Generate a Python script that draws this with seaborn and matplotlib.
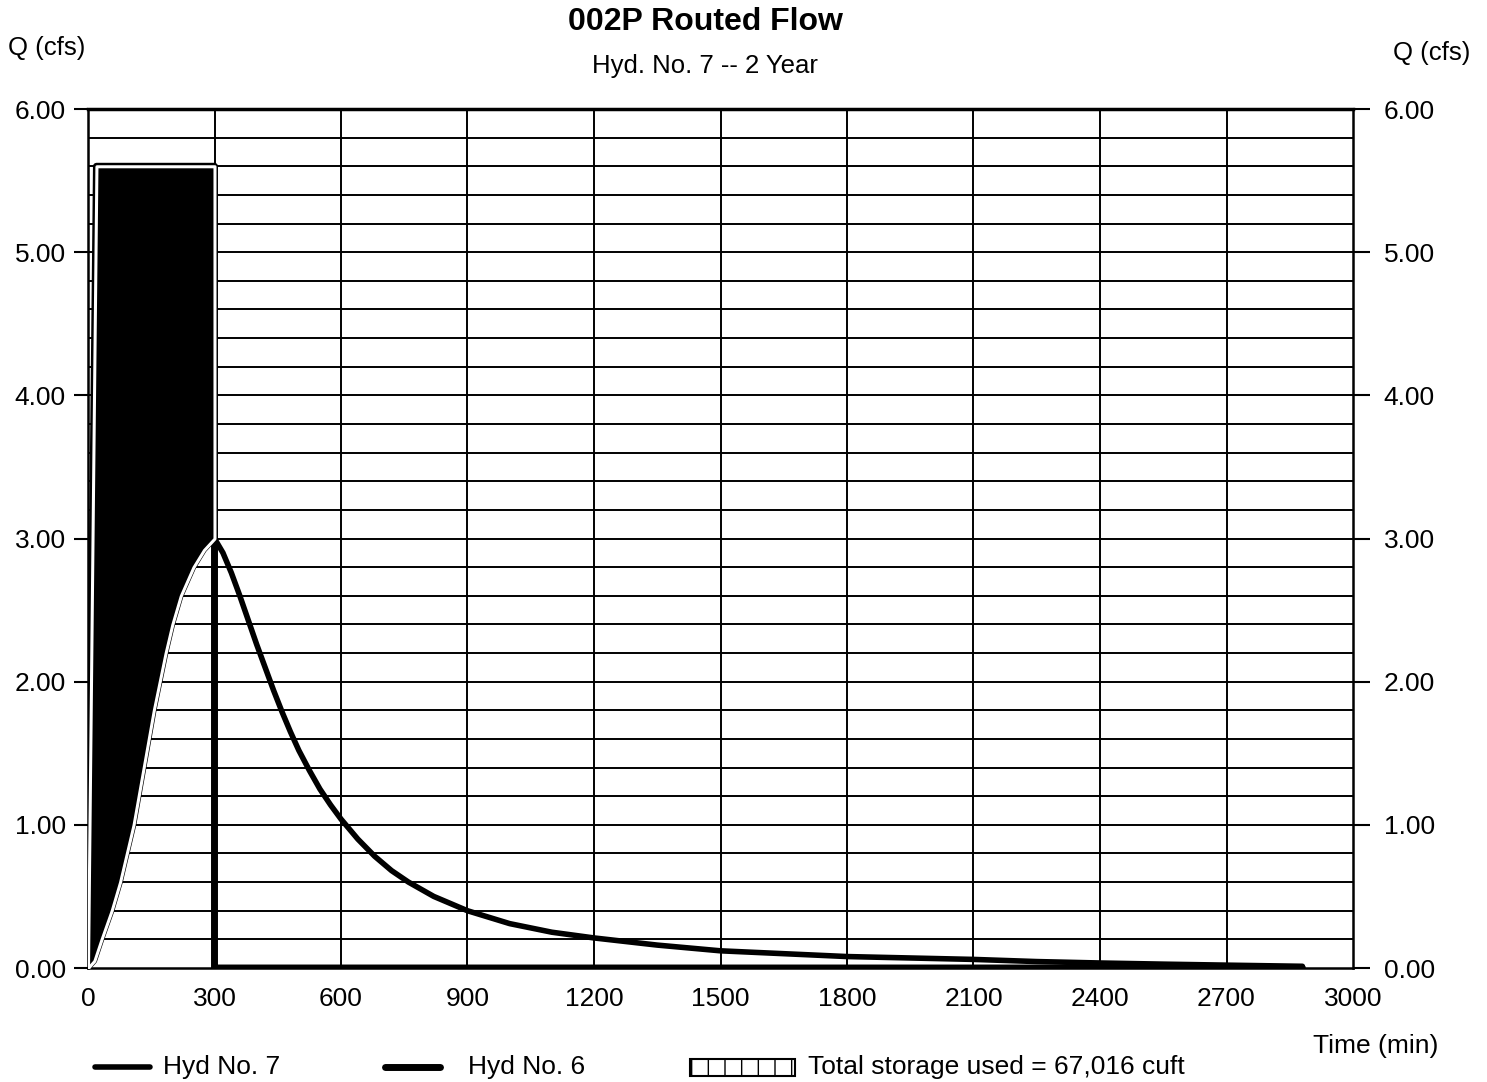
import matplotlib
matplotlib.use("Agg")
import matplotlib.pyplot as plt
import seaborn as sns
import pandas as pd
import numpy as np
from matplotlib.lines import Line2D
from matplotlib.patches import Rectangle

# ---------------- data ----------------
# Hyd No. 7 (routed outflow)
out_time = [0, 15, 32, 56, 76, 92, 108, 120, 132, 144, 156, 170, 184, 200, 220, 250, 275, 300,
            320, 340, 360, 380, 400, 420, 440, 460, 480, 500, 525, 550, 575, 600, 640, 680,
            720, 760, 820, 900, 1000, 1100, 1200, 1350, 1500, 1650, 1800, 1950, 2100, 2250,
            2400, 2550, 2700, 2880]
out_q = [0.0, 0.05, 0.20, 0.40, 0.60, 0.80, 1.00, 1.20, 1.40, 1.60, 1.80, 2.00, 2.20, 2.40, 2.60, 2.80, 2.92, 3.00,
         2.90, 2.76, 2.60, 2.43, 2.26, 2.10, 1.94, 1.79, 1.65, 1.52, 1.38, 1.25, 1.14, 1.04, 0.90, 0.78,
         0.68, 0.60, 0.50, 0.40, 0.31, 0.25, 0.21, 0.16, 0.12, 0.10, 0.08, 0.07, 0.06, 0.045,
         0.035, 0.027, 0.02, 0.012]
# Hyd No. 6 (inflow)
in_time = [0, 20, 300, 300, 2880]
in_q = [0.0, 5.60, 5.60, 0.0, 0.0]

x_ticks = [0, 300, 600, 900, 1200, 1500, 1800, 2100, 2400, 2700, 3000]
y_ticks = [0, 1, 2, 3, 4, 5, 6]
storage_label = "Total storage used = 67,016 cuft"

# ---------------- style ----------------
sns.set_theme(style="white")
plt.rcParams['font.family'] = ['Liberation Sans', 'DejaVu Sans']
plt.rcParams['text.color'] = 'black'
plt.rcParams['xtick.color'] = 'black'
plt.rcParams['ytick.color'] = 'black'

fig = plt.figure(figsize=(14.87, 10.82), dpi=100)
ax = fig.add_axes([88 / 1487, 1 - 968 / 1082, (1353 - 88) / 1487, (968 - 109) / 1082])

df_out = pd.DataFrame({"t": out_time, "q": out_q})
df_in = pd.DataFrame({"t": in_time, "q": in_q})

# grid
for yv in np.arange(0.2, 6.0, 0.2):
    ax.axhline(yv, color="black", lw=1.4, zorder=1)
for xv in x_ticks[1:-1]:
    ax.axvline(xv, color="black", lw=1.4, zorder=1)

# lines
sns.lineplot(data=df_in, x="t", y="q", ax=ax, color="black", lw=5, estimator=None,
             sort=False, zorder=3, legend=False)
sns.lineplot(data=df_out, x="t", y="q", ax=ax, color="black", lw=4, estimator=None,
             sort=False, zorder=3, legend=False)

# storage area between inflow and outflow up to peak
peak_t = in_time[2]
t_fill = np.array(sorted(set([t for t in out_time if t <= peak_t] + in_time[:3])), dtype=float)
q_out_fill = np.interp(t_fill, out_time, out_q)
q_in_fill = np.interp(t_fill, in_time[:3], in_q[:3])
ax.fill_between(t_fill, q_out_fill, q_in_fill, facecolor="black", edgecolor="white",
                lw=2.2, zorder=4)

ax.set_xlim(0, 3000)
ax.set_ylim(0, 6)
ax.set_xticks(x_ticks)
ax.set_xticklabels([str(v) for v in x_ticks], fontsize=19)
ax.set_yticks(y_ticks)
ax.set_yticklabels([f"{v:.2f}" for v in y_ticks], fontsize=19)
ax.tick_params(axis="x", length=0, pad=14)
ax.tick_params(axis="y", length=10, width=1.5, color="black", pad=6, direction="out", left=True)
ax.set_xlabel("")
ax.set_ylabel("")
for s in ax.spines.values():
    s.set_color("black")
    s.set_linewidth(1.8)
ax.spines["top"].set_linewidth(2.5)

ax2 = ax.twinx()
ax2.set_ylim(0, 6)
ax2.set_yticks(y_ticks)
ax2.set_yticklabels([f"{v:.2f}" for v in y_ticks], fontsize=19)
ax2.tick_params(axis="y", length=12, width=1.5, color="black", pad=10, direction="out", right=True)
for s in ax2.spines.values():
    s.set_visible(False)
ax2.grid(False)
ax.grid(False)

# titles and labels
fig.text(705 / 1487, 1 - 22 / 1082, "002P Routed Flow", fontsize=23, fontweight="bold",
         ha="center", va="center")
fig.text(705 / 1487, 1 - 66 / 1082, "Hyd. No. 7 -- 2 Year", fontsize=18.5, ha="center", va="center")
fig.text(8 / 1487, 1 - 48 / 1082, "Q (cfs)", fontsize=18.5, ha="left", va="center")
fig.text(1470 / 1487, 1 - 53 / 1082, "Q (cfs)", fontsize=18.5, ha="right", va="center")
fig.text(1438 / 1487, 1 - 1046 / 1082, "Time (min)", fontsize=19, ha="right", va="center")

# legend (manual)
ly = 1 - 1067 / 1082
fig.add_artist(Line2D([95 / 1487, 150 / 1487], [ly, ly], color="black", lw=4))
fig.text(163 / 1487, ly, "Hyd No. 7", fontsize=19, va="center")
fig.add_artist(Line2D([385 / 1487, 440 / 1487], [ly, ly], color="black", lw=5))
fig.text(468 / 1487, ly, "Hyd No. 6", fontsize=19, va="center")
fig.add_artist(Rectangle((690 / 1487, 1 - 1076 / 1082), 105 / 1487, 17 / 1082,
                         transform=fig.transFigure, facecolor="white", edgecolor="black",
                         hatch="|", lw=1.5))
fig.text(808 / 1487, ly, storage_label, fontsize=19, va="center")

fig.savefig("out.png", dpi=100, facecolor="white")
